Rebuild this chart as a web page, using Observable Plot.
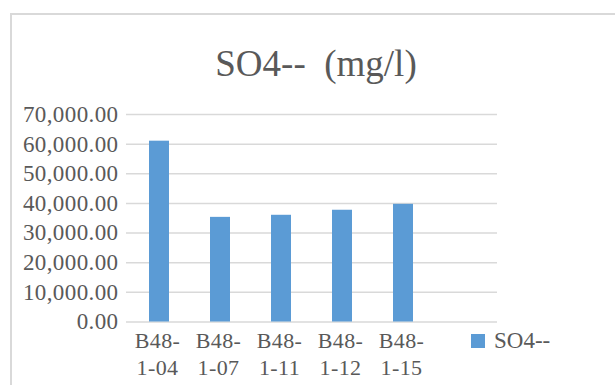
<!DOCTYPE html>
<html>
<head>
<meta charset="utf-8">
<script src="https://cdn.jsdelivr.net/npm/d3@7"></script>
<script src="https://cdn.jsdelivr.net/npm/@observablehq/plot@0.6"></script>
<style>
  html, body { margin: 0; padding: 0; background: #fff; }
  #wrap { position: relative; width: 615px; height: 385px; overflow: hidden; font-family: "Liberation Serif", "Times New Roman", serif; color: #595959; }
  #frame { position: absolute; left: 10px; top: 13px; width: 700px; height: 500px; border-left: 2px solid #d9d9d9; border-top: 2px solid #d9d9d9; }
  #title { position: absolute; left: 0; width: 632px; top: 45px; text-align: center; font-size: 37px; line-height: 37px; white-space: pre; }
  #chart { position: absolute; left: 0; top: 95px; }
  #legend { position: absolute; left: 471px; top: 330px; display: flex; align-items: center; font-size: 23px; line-height: 22px; }
  #legend .sw { width: 14px; height: 14px; background: #5b9bd5; margin-right: 9px; }
  #chart svg text { letter-spacing: 0.4px; }
</style>
</head>
<body>
<div id="wrap">
  <div id="frame"></div>
  <div id="title">SO4--  (mg/l)</div>
  <div id="chart"></div>
  <div id="legend"><div class="sw"></div><span>SO4--</span></div>
</div>
<script>
const categories = ["B48-1-04", "B48-1-07", "B48-1-11", "B48-1-12", "B48-1-15"];
const so4Values = [61000, 35300, 36000, 37700, 39700];
const yTicks = [0, 10000, 20000, 30000, 40000, 50000, 60000, 70000];
const seriesName = "SO4--";

const data = categories.map((c, i) => ({category: c, value: so4Values[i]}));
const fmt = d3.format(",.2f");

const chart = Plot.plot({
  width: 615,
  height: 290,
  marginLeft: 126,
  marginRight: 118,
  marginTop: 19,
  marginBottom: 63.5,
  style: {fontFamily: '"Liberation Serif", "Times New Roman", serif', fontSize: "23px", color: "#595959", background: "transparent"},
  x: {domain: [...categories, ""], paddingInner: 0.676, paddingOuter: 0.338},
  y: {domain: [0, 70000]},
  marks: [
    Plot.ruleY(yTicks, {stroke: "#d9d9d9", strokeWidth: 1.5, strokeOpacity: 1}),
    Plot.barY(data, {x: "category", y: "value", fill: "#5b9bd5"}),
    Plot.axisY({ticks: yTicks, tickFormat: fmt, tickSize: 0, tickPadding: 8, fill: "#595959", fontSize: 23, label: null}),
    Plot.axisX({tickSize: 0, tickPadding: 7, fill: "#595959", fontSize: 22, lineHeight: 1.22, label: null, dx: -2,
      tickFormat: d => d ? d.slice(0, 4) + "\n" + d.slice(4) : ""})
  ]
});
document.getElementById("chart").appendChild(chart);
</script>
</body>
</html>
